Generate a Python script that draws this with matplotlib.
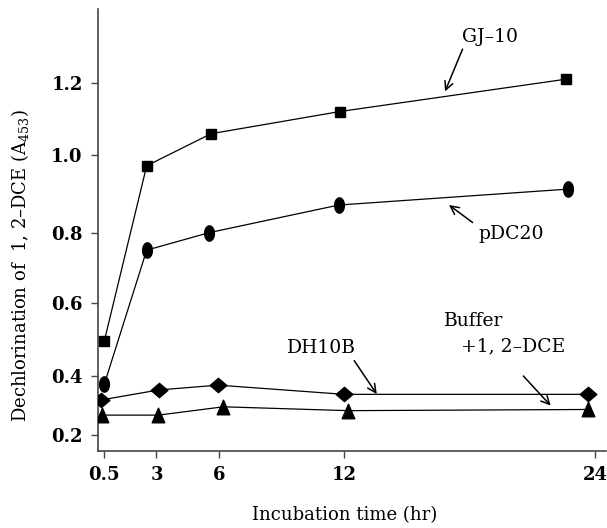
import numpy as np
import matplotlib
matplotlib.use("Agg")
import matplotlib.pyplot as plt
from matplotlib.path import Path

plt.rcParams['font.family'] = ['DejaVu Serif']
plt.rcParams['mathtext.fontset'] = 'dejavuserif'

# ---- data ----
gj10_x = [0.5, 2.53, 5.61, 11.79, 22.6]
gj10_y = [0.495, 0.972, 1.059, 1.121, 1.211]

pdc20_x = [0.5, 2.53, 5.53, 11.73, 22.72]
pdc20_y = [0.371, 0.750, 0.800, 0.871, 0.912]

dh10b_x = [0.34, 3.12, 5.96, 11.99, 23.65]
dh10b_y = [0.318, 0.352, 0.368, 0.337, 0.337]

buffer_x = [0.37, 3.09, 6.2, 12.19, 23.65]
buffer_y = [0.267, 0.267, 0.295, 0.282, 0.286]

x_ticks = [0.5, 3, 6, 12, 24]
x_ticklabels = ['0.5', '3', '6', '12', '24']
y_ticks = [0.2, 0.4, 0.6, 0.8, 1.0, 1.2]
y_ticklabels = ['0.2', '0.4', '0.6', '0.8', '1.0', '1.2']

# irregular (hand-drawn) y axis: tick value -> relative position
Y_POS = np.array([93.0, 152.3, 225.3, 295.3, 373.0, 444.7])
Y_VAL = np.array(y_ticks)
s_lo = (Y_POS[1] - Y_POS[0]) / (Y_VAL[1] - Y_VAL[0])
s_hi = (Y_POS[-1] - Y_POS[-2]) / (Y_VAL[-1] - Y_VAL[-2])


def fwd(y):
    y = np.asarray(y, float)
    return np.where(y < Y_VAL[0], Y_POS[0] + (y - Y_VAL[0]) * s_lo,
                    np.where(y > Y_VAL[-1], Y_POS[-1] + (y - Y_VAL[-1]) * s_hi,
                             np.interp(y, Y_VAL, Y_POS)))


def inv(p):
    p = np.asarray(p, float)
    return np.where(p < Y_POS[0], Y_VAL[0] + (p - Y_POS[0]) / s_lo,
                    np.where(p > Y_POS[-1], Y_VAL[-1] + (p - Y_POS[-1]) / s_hi,
                             np.interp(p, Y_POS, Y_VAL)))


# custom marker shapes
t = np.linspace(0, 2 * np.pi, 40)
ellipse = Path(np.column_stack([0.32 * np.cos(t), 0.5 * np.sin(t)]), closed=True)
diamond = Path([(0, 0.43), (0.5, 0), (0, -0.43), (-0.5, 0), (0, 0.43)], closed=True)
triangle = Path([(-0.43, -0.5), (0.43, -0.5), (0, 0.5), (-0.43, -0.5)], closed=True)

fig = plt.figure(figsize=(6.07, 5.28), dpi=100)
ax = fig.add_axes([98 / 607, 1 - 450.7 / 528, (606 - 98) / 607, (450.7 - 9.3) / 528])
ax.set_yscale('function', functions=(fwd, inv))

lw = 0.9
ax.plot(gj10_x, gj10_y, color='black', lw=lw, marker='s', ms=7.8, zorder=3)
ax.plot(pdc20_x, pdc20_y, color='black', lw=lw, marker=ellipse, ms=11, zorder=3)
ax.plot(dh10b_x, dh10b_y, color='black', lw=lw, marker=diamond, ms=12, zorder=3)
ax.plot(buffer_x, buffer_y, color='black', lw=lw, marker=triangle, ms=10.5, zorder=3)

ax.set_xlim(0.198, 24.53)
ax.set_ylim(0.147, 1.406)

ax.set_xticks(x_ticks)
ax.set_xticklabels(x_ticklabels)
ax.set_yticks(y_ticks)
ax.set_yticklabels(y_ticklabels)
ax.minorticks_off()
ax.tick_params(axis='both', direction='out', length=5, width=1.0, color='#444444',
               labelsize=13, pad=6)
for lab in ax.get_xticklabels() + ax.get_yticklabels():
    lab.set_fontweight('bold')

for s in ['top', 'right']:
    ax.spines[s].set_visible(False)
for s in ['left', 'bottom']:
    ax.spines[s].set_color('#444444')
    ax.spines[s].set_linewidth(1.2)

arrow = dict(arrowstyle='->', color='black', lw=1.1, shrinkA=0, shrinkB=0,
             mutation_scale=15)
txt = dict(fontsize=13.5, ha='center', va='center')

ax.text(18.97, 1.33, 'GJ–10', **txt)
ax.annotate('', xy=(16.82, 1.177), xytext=(17.66, 1.295), arrowprops=arrow)

ax.text(19.98, 0.796, 'pDC20', **txt)
ax.annotate('', xy=(17.01, 0.871), xytext=(18.14, 0.826), arrowprops=arrow)

ax.text(10.88, 0.475, 'DH10B', **txt)
ax.annotate('', xy=(13.55, 0.338), xytext=(12.47, 0.441), arrowprops=arrow)

ax.text(18.17, 0.550, 'Buffer', **txt)
ax.text(20.09, 0.481, '+1, 2–DCE', **txt)
ax.annotate('', xy=(21.88, 0.299), xytext=(20.57, 0.399), arrowprops=arrow)

fig.text(345 / 607, 1 - 515 / 528, 'Incubation time (hr)', fontsize=13,
         ha='center', va='center')
fig.text(20 / 607, 1 - 266 / 528, 'Dechlorination of  1, 2–DCE (A$_{453}$)',
         fontsize=13, ha='center', va='center', rotation=90)

fig.savefig('out.png', dpi=100)
